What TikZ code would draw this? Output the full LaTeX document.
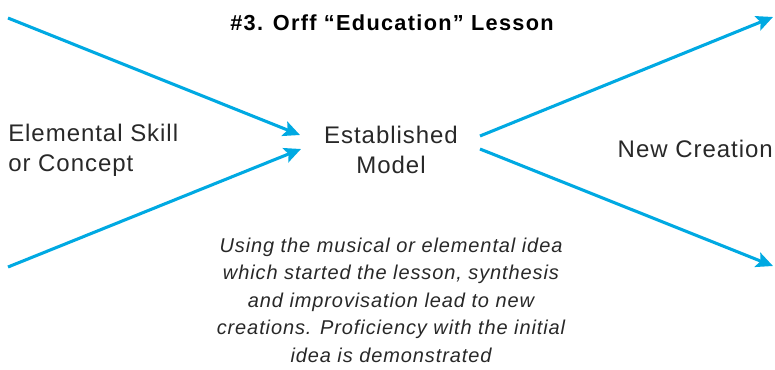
\documentclass[tikz,border=0pt]{standalone}
\usepackage{fontspec}
\setmainfont{Liberation Sans}
\usetikzlibrary{arrows.meta}
\definecolor{flowblue}{RGB}{0,169,226}
\definecolor{inkgray}{RGB}{40,40,40}
\begin{document}
\begin{tikzpicture}[x=0.75pt,y=-0.75pt,
  flow/.style={draw=flowblue,line width=2.3pt,
    -{Stealth[length=12.5pt,width=11.5pt,inset=2.5pt]}},
  label/.style={inner sep=0pt,text=inkgray,
    font=\addfontfeature{LetterSpace=4}\fontsize{18pt}{22.5pt}\selectfont},
  heading/.style={inner sep=0pt,text=black,
    font=\addfontfeature{LetterSpace=6}\fontsize{16.3pt}{19pt}\selectfont\bfseries},
  note/.style={inner sep=0pt,text=inkgray,align=center,
    font=\addfontfeature{LetterSpace=4.5}\fontsize{15pt}{20.6pt}\selectfont\itshape}]
  \useasboundingbox (0,0) rectangle (775,369);

  % heading
  \node[heading,anchor=base] (title) at (392,30) {\#3. Orff “Education” Lesson};

  % the three stages
  \node[label,anchor=west,align=left] (skill) at (8,150) {Elemental Skill\\or Concept};
  \node[label,align=center] (model) at (391,150) {Established\\Model};
  \node[label,anchor=east] (creation) at (773,149) {New Creation};

  % explanatory note
  \node[note] (explain) at (391,300) {Using the musical or elemental idea\\
    which started the lesson, synthesis\\
    and improvisation lead to new\\
    creations. Proficiency with the initial\\
    idea is demonstrated};

  % arrow end points
  \coordinate (inA) at (8,18);
  \coordinate (inB) at (8,267);
  \coordinate (tipA) at (300,135);
  \coordinate (tipB) at (301,149);
  \coordinate (outA) at (480,136);
  \coordinate (outB) at (480,149);
  \coordinate (endA) at (773,17);
  \coordinate (endB) at (773,266);

  \draw[flow] (inA) -- (tipA);
  \draw[flow] (inB) -- (tipB);
  \draw[flow] (outA) -- (endA);
  \draw[flow] (outB) -- (endB);
\end{tikzpicture}
\end{document}
